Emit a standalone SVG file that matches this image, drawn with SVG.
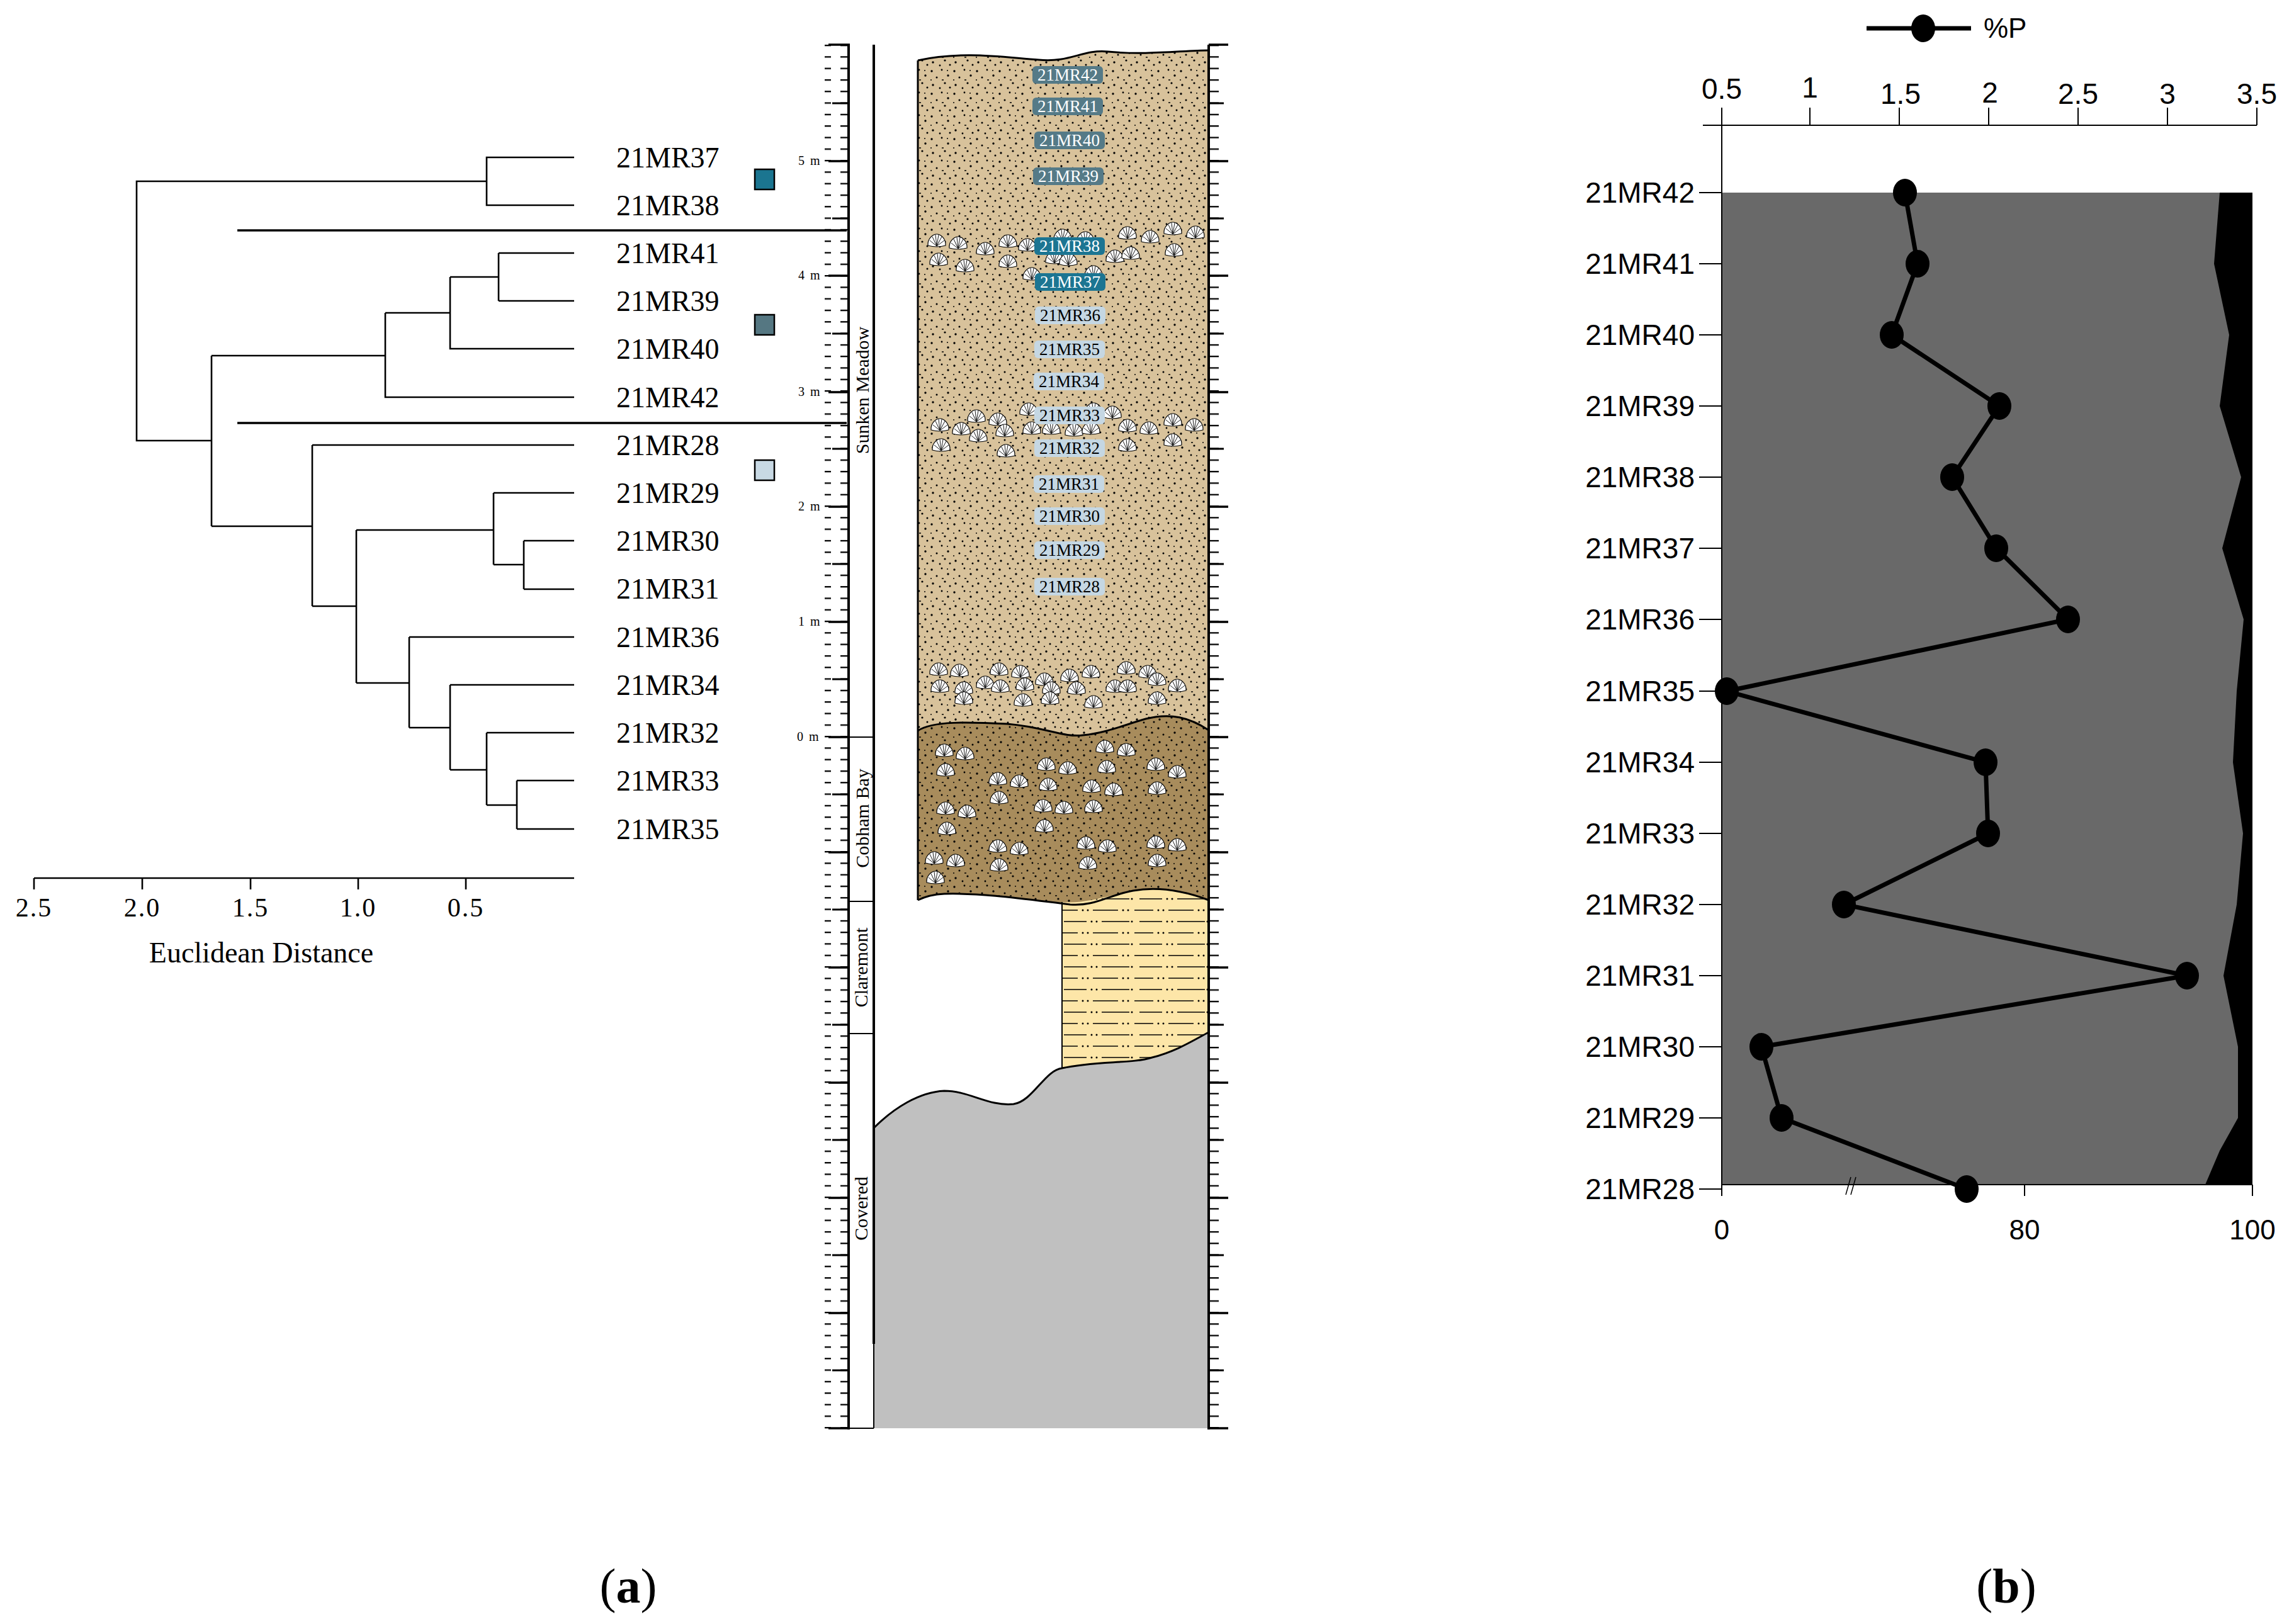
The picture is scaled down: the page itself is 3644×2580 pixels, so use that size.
<svg xmlns="http://www.w3.org/2000/svg" xmlns:xlink="http://www.w3.org/1999/xlink" width="3644" height="2580" viewBox="0 0 3644 2580">
<style>
.tr{font-family:"Liberation Serif",serif;fill:#000}
.ar{font-family:"Liberation Sans",Arial,sans-serif;fill:#000}
.dl{fill:none;stroke:#000;stroke-width:2.6}
.lbl{font-family:"Liberation Serif",serif;font-size:27px;text-anchor:middle}
.ln{fill:none;stroke:#000;stroke-width:3}
path{fill-rule:nonzero}
</style>
<defs>
<pattern id="dots" width="36" height="36" patternUnits="userSpaceOnUse">
<circle cx="4" cy="5" r="1.7"/><circle cx="20" cy="3" r="1.4"/><circle cx="30" cy="12" r="1.7"/><circle cx="12" cy="15" r="1.5"/><circle cx="25" cy="24" r="1.6"/><circle cx="6" cy="27" r="1.7"/><circle cx="17" cy="32" r="1.4"/><circle cx="33" cy="31" r="1.5"/>
<path d="M20,19h3M2,19h2M28,4h2" stroke="#000" stroke-width="1.5" fill="none"/>
</pattern>
<pattern id="clay" width="120" height="36" patternUnits="userSpaceOnUse">
<path d="M2,6h30M56,6h40M10,24h36M70,24h44" stroke="#000" stroke-width="1.6" fill="none"/>
<circle cx="40" cy="6" r="1.5"/><circle cx="48" cy="6" r="1.5"/><circle cx="104" cy="6" r="1.5"/><circle cx="112" cy="6" r="1.5"/><circle cx="54" cy="24" r="1.5"/><circle cx="62" cy="24" r="1.5"/><circle cx="118" cy="24" r="1.5"/>
</pattern>
<pattern id="rulL" y="71" width="40" height="18.3" patternUnits="userSpaceOnUse"><path d="M15,0.8H40" stroke="#000" stroke-width="3" fill="none"/></pattern>
<pattern id="rulR" x="1920" y="71" width="40" height="18.3" patternUnits="userSpaceOnUse"><path d="M0,0.8H16" stroke="#000" stroke-width="3" fill="none"/></pattern>
<g id="sh">
<path d="M-14,7 C-15,-4 -6,-11 0,-11 C6,-11 15,-4 14,7 Q0,11 -14,7 Z" fill="#fff" stroke="#000" stroke-width="1.2"/>
<path d="M0,8 L-11,-1 M0,8 L-7,-7 M0,8 L-2,-10 M0,8 L3,-10 M0,8 L8,-7 M0,8 L12,-1" stroke="#000" stroke-width="0.9" fill="none"/>
</g>
</defs>
<rect width="3644" height="2580" fill="#fff"/>

<!-- Dendrogram -->
<g id="dendrogram">
<path class="dl" d="M912,250H773V326H912M773,288H217V700H336M336,565V836M336,565H612M612,497V631H912M612,497H715M715,440V554H912M715,440H792M792,402V478M792,402H912M792,478H912"/>
<path class="dl" d="M336,836H496M496,707V963M496,707H912M496,963H566M566,842V1085M566,842H784M784,783V897M784,783H912M784,897H832M832,859V936M832,859H912M832,936H912M566,1085H650M650,1012V1156M650,1012H912M650,1156H715M715,1088V1223M715,1088H912M715,1223H773M773,1164V1279M773,1164H912M773,1279H821M821,1240V1317M821,1240H912M821,1317H912"/>
<path d="M377,366H1345M377,672H1345" stroke="#000" stroke-width="3.5" fill="none"/>
<g class="tr" font-size="46">
<text x="979" y="266">21MR37</text><text x="979" y="342">21MR38</text><text x="979" y="418">21MR41</text><text x="979" y="494">21MR39</text><text x="979" y="570">21MR40</text><text x="979" y="647">21MR42</text><text x="979" y="723">21MR28</text><text x="979" y="799">21MR29</text><text x="979" y="875">21MR30</text><text x="979" y="951">21MR31</text><text x="979" y="1028">21MR36</text><text x="979" y="1104">21MR34</text><text x="979" y="1180">21MR32</text><text x="979" y="1256">21MR33</text><text x="979" y="1333">21MR35</text>
</g>
<rect x="1199" y="269" width="31" height="32" fill="#1b7590" stroke="#000" stroke-width="2.5"/>
<rect x="1199" y="500" width="31" height="32" fill="#557782" stroke="#000" stroke-width="2.5"/>
<rect x="1199" y="731" width="31" height="32" fill="#c8d9e4" stroke="#000" stroke-width="2.5"/>
<path class="dl" d="M54,1395H912M54,1395V1413M226,1395V1413M398,1395V1413M569,1395V1413M740,1395V1413"/>
<g class="tr" font-size="42" text-anchor="middle" letter-spacing="2">
<text x="54" y="1456">2.5</text><text x="226" y="1456">2.0</text><text x="398" y="1456">1.5</text><text x="569" y="1456">1.0</text><text x="740" y="1456">0.5</text>
</g>
<text class="tr" x="415" y="1529" font-size="46" text-anchor="middle">Euclidean Distance</text>
</g>

<!-- Strat column -->
<g id="column">
<path d="M1458,96 C1530,80 1600,92 1650,95 C1700,100 1720,78 1760,82 C1820,88 1880,80 1920,80 V1160 C1890,1140 1860,1132 1820,1142 C1790,1150 1760,1164 1720,1168 C1690,1172 1660,1155 1600,1150 C1540,1147 1480,1145 1458,1161 Z" fill="#d8c29b"/>
<path d="M1458,96 C1530,80 1600,92 1650,95 C1700,100 1720,78 1760,82 C1820,88 1880,80 1920,80 V1160 C1890,1140 1860,1132 1820,1142 C1790,1150 1760,1164 1720,1168 C1690,1172 1660,1155 1600,1150 C1540,1147 1480,1145 1458,1161 Z" fill="url(#dots)"/>
<path d="M1458,1161 C1480,1145 1540,1147 1600,1150 C1660,1155 1690,1172 1720,1168 C1760,1164 1790,1150 1820,1142 C1860,1132 1890,1140 1920,1160 V1430 C1880,1415 1840,1408 1800,1415 C1760,1422 1740,1440 1700,1437 C1640,1430 1560,1418 1500,1420 C1480,1421 1466,1426 1458,1430 Z" fill="#a88c5c"/>
<path d="M1458,1161 C1480,1145 1540,1147 1600,1150 C1660,1155 1690,1172 1720,1168 C1760,1164 1790,1150 1820,1142 C1860,1132 1890,1140 1920,1160 V1430 C1880,1415 1840,1408 1800,1415 C1760,1422 1740,1440 1700,1437 C1640,1430 1560,1418 1500,1420 C1480,1421 1466,1426 1458,1430 Z" fill="url(#dots)"/>
<path d="M1687,1433 C1720,1436 1750,1426 1800,1415 C1840,1408 1880,1415 1920,1430 V1640 C1900,1650 1870,1670 1830,1680 C1800,1690 1740,1685 1687,1697 Z" fill="#fde6a8"/>
<path d="M1687,1433 C1720,1436 1750,1426 1800,1415 C1840,1408 1880,1415 1920,1430 V1640 C1900,1650 1870,1670 1830,1680 C1800,1690 1740,1685 1687,1697 Z" fill="url(#clay)"/>
<path d="M1388,1792 C1420,1760 1460,1735 1500,1733 C1540,1733 1570,1758 1610,1754 C1640,1750 1660,1700 1687,1697 C1740,1685 1800,1690 1830,1680 C1870,1670 1900,1650 1920,1640 V2269 H1388 Z" fill="#c0c0c0"/>
<g class="ln">
<path d="M1458,96 C1530,80 1600,92 1650,95 C1700,100 1720,78 1760,82 C1820,88 1880,80 1920,80"/>
<path d="M1458,96V1430"/>
<path d="M1458,1161 C1480,1145 1540,1147 1600,1150 C1660,1155 1690,1172 1720,1168 C1760,1164 1790,1150 1820,1142 C1860,1132 1890,1140 1920,1160"/>
<path d="M1458,1430 C1466,1426 1480,1421 1500,1420 C1560,1418 1640,1430 1700,1437 C1740,1440 1760,1422 1800,1415 C1840,1408 1880,1415 1920,1430"/>
<path d="M1687,1433V1697" stroke-width="2"/>
<path d="M1388,1792 C1420,1760 1460,1735 1500,1733 C1540,1733 1570,1758 1610,1754 C1640,1750 1660,1700 1687,1697 C1740,1685 1800,1690 1830,1680 C1870,1670 1900,1650 1920,1640"/>
</g>
<g id="shells">
<use href="#sh" x="1488" y="383"/><use href="#sh" x="1522" y="387"/><use href="#sh" x="1565" y="396"/><use href="#sh" x="1601" y="384"/><use href="#sh" x="1491" y="413"/><use href="#sh" x="1533" y="423"/><use href="#sh" x="1601" y="416"/><use href="#sh" x="1632" y="390"/><use href="#sh" x="1791" y="371"/><use href="#sh" x="1827" y="377"/><use href="#sh" x="1863" y="364"/><use href="#sh" x="1899" y="370"/><use href="#sh" x="1771" y="408"/><use href="#sh" x="1796" y="403"/><use href="#sh" x="1865" y="398"/><use href="#sh" x="1688" y="375"/><use href="#sh" x="1724" y="379"/><use href="#sh" x="1675" y="410"/><use href="#sh" x="1697" y="413"/><use href="#sh" x="1737" y="433"/><use href="#sh" x="1639" y="436"/>
<use href="#sh" x="1493" y="676"/><use href="#sh" x="1527" y="682"/><use href="#sh" x="1551" y="662"/><use href="#sh" x="1585" y="667"/><use href="#sh" x="1596" y="685"/><use href="#sh" x="1554" y="693"/><use href="#sh" x="1495" y="708"/><use href="#sh" x="1598" y="717"/><use href="#sh" x="1634" y="651"/><use href="#sh" x="1639" y="681"/><use href="#sh" x="1670" y="681"/><use href="#sh" x="1706" y="684"/><use href="#sh" x="1733" y="681"/><use href="#sh" x="1767" y="656"/><use href="#sh" x="1791" y="677"/><use href="#sh" x="1825" y="681"/><use href="#sh" x="1863" y="668"/><use href="#sh" x="1897" y="676"/><use href="#sh" x="1791" y="708"/><use href="#sh" x="1863" y="700"/><use href="#sh" x="1737" y="651"/>
<use href="#sh" x="1491" y="1064"/><use href="#sh" x="1524" y="1066"/><use href="#sh" x="1565" y="1085"/><use href="#sh" x="1587" y="1064"/><use href="#sh" x="1621" y="1068"/><use href="#sh" x="1659" y="1080"/><use href="#sh" x="1699" y="1074"/><use href="#sh" x="1733" y="1068"/><use href="#sh" x="1789" y="1062"/><use href="#sh" x="1823" y="1068"/><use href="#sh" x="1870" y="1090"/><use href="#sh" x="1493" y="1091"/><use href="#sh" x="1531" y="1094"/><use href="#sh" x="1589" y="1091"/><use href="#sh" x="1628" y="1088"/><use href="#sh" x="1670" y="1094"/><use href="#sh" x="1710" y="1094"/><use href="#sh" x="1771" y="1091"/><use href="#sh" x="1791" y="1091"/><use href="#sh" x="1838" y="1080"/><use href="#sh" x="1531" y="1110"/><use href="#sh" x="1625" y="1113"/><use href="#sh" x="1668" y="1110"/><use href="#sh" x="1737" y="1116"/><use href="#sh" x="1838" y="1110"/>
<use href="#sh" x="1500" y="1193"/><use href="#sh" x="1533" y="1198"/><use href="#sh" x="1502" y="1224"/><use href="#sh" x="1585" y="1238"/><use href="#sh" x="1619" y="1242"/><use href="#sh" x="1587" y="1268"/><use href="#sh" x="1502" y="1285"/><use href="#sh" x="1536" y="1290"/><use href="#sh" x="1504" y="1317"/><use href="#sh" x="1484" y="1364"/><use href="#sh" x="1518" y="1368"/><use href="#sh" x="1486" y="1395"/><use href="#sh" x="1585" y="1345"/><use href="#sh" x="1619" y="1349"/><use href="#sh" x="1587" y="1375"/><use href="#sh" x="1662" y="1215"/><use href="#sh" x="1696" y="1221"/><use href="#sh" x="1665" y="1247"/><use href="#sh" x="1657" y="1281"/><use href="#sh" x="1690" y="1284"/><use href="#sh" x="1659" y="1313"/><use href="#sh" x="1755" y="1187"/><use href="#sh" x="1789" y="1192"/><use href="#sh" x="1758" y="1219"/><use href="#sh" x="1734" y="1250"/><use href="#sh" x="1769" y="1255"/><use href="#sh" x="1737" y="1282"/><use href="#sh" x="1725" y="1340"/><use href="#sh" x="1759" y="1345"/><use href="#sh" x="1728" y="1372"/><use href="#sh" x="1836" y="1215"/><use href="#sh" x="1870" y="1227"/><use href="#sh" x="1838" y="1253"/><use href="#sh" x="1836" y="1339"/><use href="#sh" x="1870" y="1343"/><use href="#sh" x="1838" y="1368"/>
</g>
<g id="samples">
<rect x="1640" y="105" width="112" height="28" rx="6" fill="#557a87"/><text class="lbl" x="1696" y="128" fill="#fff">21MR42</text>
<rect x="1640" y="155" width="112" height="28" rx="6" fill="#557a87"/><text class="lbl" x="1696" y="178" fill="#fff">21MR41</text>
<rect x="1643" y="209" width="112" height="28" rx="6" fill="#557a87"/><text class="lbl" x="1699" y="232" fill="#fff">21MR40</text>
<rect x="1641" y="266" width="112" height="28" rx="6" fill="#557a87"/><text class="lbl" x="1697" y="289" fill="#fff">21MR39</text>
<rect x="1643" y="377" width="112" height="28" rx="6" fill="#1c7592"/><text class="lbl" x="1699" y="400" fill="#fff">21MR38</text>
<rect x="1644" y="434" width="112" height="28" rx="6" fill="#1c7592"/><text class="lbl" x="1700" y="457" fill="#fff">21MR37</text>
<rect x="1644" y="487" width="112" height="28" rx="6" fill="#c5d7e3"/><text class="lbl" x="1700" y="510">21MR36</text>
<rect x="1643" y="541" width="112" height="28" rx="6" fill="#c5d7e3"/><text class="lbl" x="1699" y="564">21MR35</text>
<rect x="1642" y="592" width="112" height="28" rx="6" fill="#c5d7e3"/><text class="lbl" x="1698" y="615">21MR34</text>
<rect x="1643" y="646" width="112" height="28" rx="6" fill="#c5d7e3"/><text class="lbl" x="1699" y="669">21MR33</text>
<rect x="1643" y="698" width="112" height="28" rx="6" fill="#c5d7e3"/><text class="lbl" x="1699" y="721">21MR32</text>
<rect x="1642" y="755" width="112" height="28" rx="6" fill="#c5d7e3"/><text class="lbl" x="1698" y="778">21MR31</text>
<rect x="1643" y="806" width="112" height="28" rx="6" fill="#c5d7e3"/><text class="lbl" x="1699" y="829">21MR30</text>
<rect x="1643" y="860" width="112" height="28" rx="6" fill="#c5d7e3"/><text class="lbl" x="1699" y="883">21MR29</text>
<rect x="1643" y="918" width="112" height="28" rx="6" fill="#c5d7e3"/><text class="lbl" x="1699" y="941">21MR28</text>
</g>
<rect x="1310" y="71" width="40" height="2200" fill="url(#rulL)"/>
<rect x="1920" y="71" width="40" height="2200" fill="url(#rulR)"/>
<g fill="none" stroke="#000">
<path d="M1316,256H1350M1316,438H1350M1316,623H1350M1316,805H1350M1316,988H1350M1316,1171H1350M1316,1354H1350M1316,1537H1350M1316,1720H1350M1316,1903H1350M1316,2086H1350M1316,2269H1350M1316,71H1350" stroke-width="3.5"/>
<path d="M1920,256H1951M1920,438H1951M1920,623H1951M1920,805H1951M1920,988H1951M1920,1171H1951M1920,1354H1951M1920,1537H1951M1920,1720H1951M1920,1903H1951M1920,2086H1951M1920,2269H1951M1920,71H1951" stroke-width="3.5"/>
<path d="M1322,164H1350M1322,347H1350M1322,530H1350M1322,713H1350M1322,896H1350M1322,1079H1350M1322,1262H1350M1322,1445H1350M1322,1628H1350M1322,1811H1350M1322,1994H1350M1322,2177H1350M1920,164H1944M1920,347H1944M1920,530H1944M1920,713H1944M1920,896H1944M1920,1079H1944M1920,1262H1944M1920,1445H1944M1920,1628H1944M1920,1811H1944M1920,1994H1944M1920,2177H1944" stroke-width="3"/>
<path d="M1348,71V2271M1920,71V2271" stroke-width="4"/>
<path d="M1388,71V2135" stroke-width="4"/>
<path d="M1388,2135V2269M1350,1171H1388M1350,1432H1388M1350,1642H1388M1350,2269H1388" stroke-width="2"/>
</g>
<g class="tr" font-size="20" letter-spacing="2">
<text x="1268" y="262">5 m</text><text x="1268" y="444">4 m</text><text x="1268" y="629">3 m</text><text x="1268" y="811">2 m</text><text x="1268" y="994">1 m</text><text x="1266" y="1177">0 m</text>
</g>
<g class="tr" font-size="30" text-anchor="middle">
<text transform="translate(1380,620) rotate(-90)">Sunken Meadow</text>
<text transform="translate(1380,1300) rotate(-90)">Cobham Bay</text>
<text transform="translate(1378,1537) rotate(-90)">Claremont</text>
<text transform="translate(1378,1920) rotate(-90)">Covered</text>
</g>
</g>

<!-- Chart b -->
<g id="chart">
<path d="M2735,306H3578V1882H2735Z" fill="#696969"/>
<path d="M3526,306L3517,419L3541,532L3526,645L3560,758L3530,871L3564,984L3553,1098L3547,1211L3563,1324L3553,1437L3532,1550L3555,1663L3555,1776L3526,1828L3503,1882H3578V306Z" fill="#000"/>
<g fill="none" stroke="#000" stroke-width="2">
<path d="M2705,199H3585M2735,199V171M2875,199V171M3017,199V171M3159,199V171M3301,199V171M3443,199V171M3585,199V171"/>
<path d="M2735,199V1882H3578M2735,1882V1900M3216,1882V1900M3578,1882V1900"/>
<path d="M2932,1898L2940,1870M2940,1898L2948,1870" stroke-width="1.5"/>
<path d="M2699,306H2735M2699,419H2735M2699,532H2735M2699,645H2735M2699,758H2735M2699,871H2735M2699,984H2735M2699,1098H2735M2699,1211H2735M2699,1324H2735M2699,1437H2735M2699,1550H2735M2699,1663H2735M2699,1776H2735M2699,1889H2735"/>
</g>
<g class="ar" font-size="46" text-anchor="middle">
<text x="2735" y="157">0.5</text><text x="2875" y="155">1</text><text x="3019" y="165">1.5</text><text x="3161" y="163">2</text><text x="3301" y="165">2.5</text><text x="3443" y="165">3</text><text x="3585" y="165">3.5</text>
</g>
<g class="ar" font-size="44" text-anchor="middle">
<text x="2735" y="1969">0</text><text x="3216" y="1969">80</text><text x="3578" y="1969">100</text>
</g>
<g class="ar" font-size="46" text-anchor="end">
<text x="2692" y="322">21MR42</text><text x="2692" y="435">21MR41</text><text x="2692" y="548">21MR40</text><text x="2692" y="661">21MR39</text><text x="2692" y="774">21MR38</text><text x="2692" y="887">21MR37</text><text x="2692" y="1000">21MR36</text><text x="2692" y="1114">21MR35</text><text x="2692" y="1227">21MR34</text><text x="2692" y="1340">21MR33</text><text x="2692" y="1453">21MR32</text><text x="2692" y="1566">21MR31</text><text x="2692" y="1679">21MR30</text><text x="2692" y="1792">21MR29</text><text x="2692" y="1905">21MR28</text>
</g>
<polyline points="3026,306 3046,419 3005,532 3176,645 3101,758 3171,871 3285,984 2743,1098 3154,1211 3158,1324 2929,1437 3474,1550 2798,1663 2830,1776 3124,1889" fill="none" stroke="#000" stroke-width="7"/>
<g fill="#000">
<ellipse cx="3026" cy="306" rx="19" ry="22"/><ellipse cx="3046" cy="419" rx="19" ry="22"/><ellipse cx="3005" cy="532" rx="19" ry="22"/><ellipse cx="3176" cy="645" rx="19" ry="22"/><ellipse cx="3101" cy="758" rx="19" ry="22"/><ellipse cx="3171" cy="871" rx="19" ry="22"/><ellipse cx="3285" cy="984" rx="19" ry="22"/><ellipse cx="2743" cy="1098" rx="19" ry="22"/><ellipse cx="3154" cy="1211" rx="19" ry="22"/><ellipse cx="3158" cy="1324" rx="19" ry="22"/><ellipse cx="2929" cy="1437" rx="19" ry="22"/><ellipse cx="3474" cy="1550" rx="19" ry="22"/><ellipse cx="2798" cy="1663" rx="19" ry="22"/><ellipse cx="2830" cy="1776" rx="19" ry="22"/><ellipse cx="3124" cy="1889" rx="19" ry="22"/>
</g>
<path d="M2965,45H3131" stroke="#000" stroke-width="7" fill="none"/>
<ellipse cx="3055" cy="45" rx="19" ry="22"/>
<text class="ar" x="3151" y="60" font-size="44">%P</text>
</g>

<g id="captions" class="tr" font-size="78" text-anchor="middle">
<text x="998" y="2546">(<tspan font-weight="bold">a</tspan>)</text>
<text x="3187" y="2546">(<tspan font-weight="bold">b</tspan>)</text>
</g>
</svg>
